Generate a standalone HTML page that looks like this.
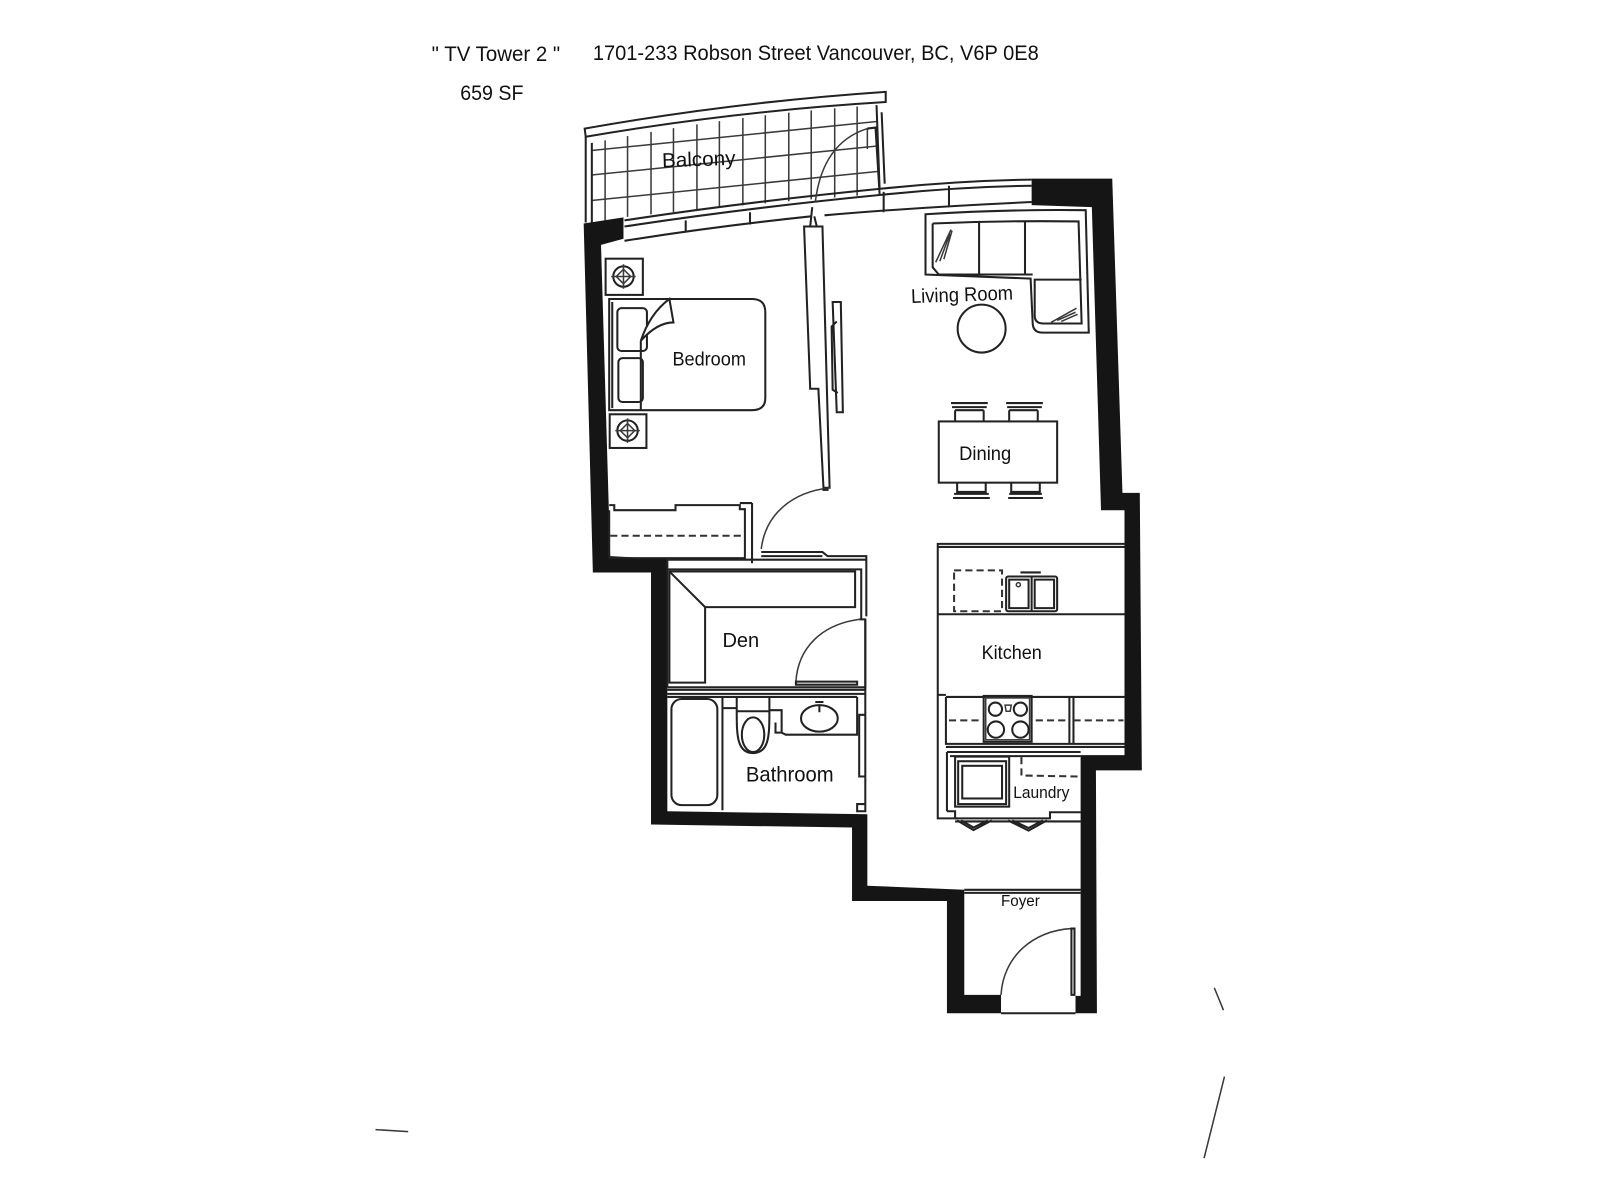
<!DOCTYPE html>
<html><head><meta charset="utf-8"><style>
html,body{margin:0;padding:0;background:#fff;width:1600px;height:1200px;overflow:hidden}
svg{display:block}
text{font-family:"Liberation Sans",sans-serif;fill:#111}
.l{fill:none;stroke:#222;stroke-width:2}
.t{fill:none;stroke:#3a3a3a;stroke-width:1.5}
.d{fill:none;stroke:#333;stroke-width:2;stroke-dasharray:7 4}
.w{fill:#151515}
.f{fill:#fff;stroke:#222;stroke-width:2}
</style></head><body>
<svg width="1600" height="1200" viewBox="0 0 1568 1176" xmlns="http://www.w3.org/2000/svg">
<defs><clipPath id="bal"><path d="M580,140 Q720,112 859,103 L863,190 Q730,200 611,213 L580,218Z"/></clipPath></defs>
<g clip-path="url(#bal)" class="t">
<path d="M593,100V230M615,100V230M638,100V230M660,100V230M683,100V230M705,100V230M728,100V230M750,100V230M773,100V230M795,100V230M818,100V230M840,100V230"/>
<path d="M575,148L870,118M575,172L870,142M575,197L870,167"/>
</g>
<path class="l" d="M573,126Q720,100 868,90L868,100Q720,109 574,134Z"/>
<path class="l" d="M574,134V218M580,140V218M859,103L862,185M864,110L867,180"/>
<path class="l" d="M612,216Q730,198 863,185Q940,177 1011,176M612,222Q730,204 863,191Q940,183 1011,182M612,236Q700,222 795,212M808,211Q900,203 1011,198M866,188V208M930,182V203M672,216V228M735,208V220"/>
<path class="l" d="M798,212L801,224M796,203L794,222"/>
<path class="t" d="M799,198Q806,140 850,126L850,146"/>
<path class="l" d="M850,126L858,125L862,190"/>
<polygon class="w" points="572,219 611,213 611,234 589,240 598,545 654,548 654,795 850,798 850,868 945,872 945,975 981,975 981,993 928,993 928,883 835,883 835,811 638,808 638,561 581,561"/>
<polygon class="w" points="1011,175 1090,175 1100,483 1117,483 1119,755 1074,755 1075,993 1054,993 1054,976 1059,976 1059,740 1102,740 1102,500 1079,500 1070,203 1011,201"/>
<path class="f" d="M788,222L806,222L813,478L807,478L802,381L794,381Z"/>
<path class="l" d="M816,296H824L826,404H820ZM820,315L815,320L816,382L821,385"/>
<path class="t" d="M814,478C775,482 750,505 746,538"/>
<path class="l" d="M812,480L806,480M746,541H806L811,545H849V604M746,545H806"/>
<rect class="f" x="593.5" y="253.5" width="36.5" height="35.5"/><circle class="l" cx="611" cy="271" r="10"/><path class="t" d="M611,259V283M599,271H623"/><rect class="t" x="606" y="266" width="10" height="10" transform="rotate(45 611 271)"/>
<rect class="f" x="597.5" y="406" width="36" height="33"/><circle class="l" cx="615" cy="422" r="10"/><path class="t" d="M615,410V434M603,422H627"/><rect class="t" x="610" y="417" width="10" height="10" transform="rotate(45 615 422)"/>
<path class="l" d="M597,293H737Q750,293 750,306V390Q750,402 737,402H597ZM600,296V400"/>
<rect class="l" x="605" y="302" width="29" height="42" rx="4"/>
<rect class="l" x="606" y="351" width="24" height="43" rx="4"/>
<path class="f" d="M628,334C634,316 644,302 656,293L660,316Q644,316 628,334ZM628,334V402"/>
<path class="l" d="M597,495H602V500H662V495H725V499H730V549M737,493V552M725,493H737M597,500V547H730"/>
<path class="d" d="M598,525H729" stroke-dasharray="4 2"/>
<path class="l" d="M654,548.5H849M654,558H844V605M654,548V673M844,558V607"/>
<path class="l" d="M656,560H838V595H691V669H656ZM656,560L691,595"/>
<path class="t" d="M842,607C805,612 782,635 780,668"/>
<path class="l" d="M842,607H848V675M780,668H840V671H780Z"/>
<path class="l" d="M654,673.5H848M654,676H848M654,680H848M654,683H840"/>
<rect class="l" x="658" y="685" width="45" height="104" rx="10"/><path class="l" d="M708,683V794M708,694H722"/>
<path class="l" d="M722,683V697H754V683M722,697C722,720 722,738 738,738C754,738 754,720 754,697"/>
<ellipse class="l" cx="738" cy="720" rx="11" ry="17"/>
<path class="l" d="M754,696H766V718L770,720H840V683M760,708V718H765"/>
<ellipse class="l" cx="803" cy="704" rx="18" ry="13"/><path class="l" d="M803,691V698M799,688H807"/>
<path class="l" d="M842,700.5H848V761H842ZM848,608V795M840,788H848V795H840Z"/>
<path class="l" stroke-width="3" d="M919,533H1102M919,536H1102M919,532V802H938M919,602H1102M919,681H927"/>
<rect class="d" x="935" y="559" width="47" height="40"/>
<rect class="l" x="986" y="565" width="50" height="34" rx="2"/><path class="l" d="M1011,565V599M989,568V596H1008V568ZM1014,568V596H1033V568ZM1000,561H1020"/><circle class="t" cx="998" cy="573" r="2"/>
<path class="l" d="M927,683H1102M927,683V729H1102M927,732H1102M1048,683V729M1052,683V729"/>
<rect class="l" x="964" y="682" width="47" height="45"/><rect class="t" x="966" y="684" width="43" height="41"/>
<circle class="l" cx="975.5" cy="695" r="6.5"/><circle class="l" cx="1000" cy="695" r="6.5"/><circle class="l" cx="976" cy="715" r="8"/><circle class="l" cx="1000" cy="715" r="8"/><path class="t" d="M985,691H991L990,697H986Z"/>
<path class="d" d="M930,706H961M1015,706H1046M1052,706H1101"/>
<path class="l" d="M928,737H1059M928,737V795M931,741H1059M928,795H936V802"/>
<rect class="l" x="936" y="741.5" width="53" height="49"/><rect class="l" x="939" y="746" width="47" height="42"/><rect class="l" x="943" y="750.5" width="39" height="32"/>
<path class="d" d="M1001,742V760L1059,761" stroke-dasharray="4 2"/>
<path class="l" d="M936,802H1029V796H1059M936,805H1059"/>
<path class="l" d="M938,804L954,813.5L972,804M942,804L954,811L968,804M988,804L1008,814L1026,804M992,804L1008,811.5L1022,804"/>
<path class="l" d="M945,872H1059M945,875H1059"/>
<path class="t" d="M981,975C983,938 1012,912 1050,910"/>
<path class="l" d="M1050,910H1053V975H1050ZM981,993H1054"/>
<path class="l" d="M907,210Q985,205 1064,206L1067,326H1022Q1012,326 1012,316L1010,273L907,269ZM914,219Q985,216 1057,217L1060,317H1022Q1014,317 1014,309V274H1060M914,219V262L920,269H1012"/>
<path class="l" d="M959.5,217V269M1004.5,217V269"/>
<path class="t" d="M917,257L932,225M921,256L931,229M925,254L933,226M1030,316L1055,302M1036,314L1054,306M1040,315L1056,308"/>
<circle class="l" cx="962" cy="322" r="23.5"/>
<rect class="l" x="920" y="413" width="116" height="60"/>
<path class="l" d="M932,395H968M933,399H967M936,402V413M964,402V413M936,402H964M986,395H1022M987,399H1021M989,402V413M1017,402V413M989,402H1017"/>
<path class="l" d="M934,488H970M935,484H969M938,473V482H966V473M988,488H1022M989,484H1021M991,473V482H1019V473"/>
<text x="423" y="60" font-size="21" textLength="126" lengthAdjust="spacingAndGlyphs">" TV Tower 2 "</text>
<text x="581" y="59" font-size="21" textLength="437" lengthAdjust="spacingAndGlyphs">1701-233 Robson Street Vancouver, BC, V6P 0E8</text>
<text x="451" y="98" font-size="21" textLength="62" lengthAdjust="spacingAndGlyphs">659 SF</text>
<text x="649" y="164" font-size="20" textLength="72" lengthAdjust="spacingAndGlyphs" transform="rotate(-2 649 164)">Balcony</text>
<text x="893" y="297" font-size="19.5" textLength="100" lengthAdjust="spacingAndGlyphs" transform="rotate(-2 893 297)">Living Room</text>
<text x="659" y="358" font-size="19" textLength="72" lengthAdjust="spacingAndGlyphs">Bedroom</text>
<text x="940" y="451" font-size="19" textLength="51" lengthAdjust="spacingAndGlyphs">Dining</text>
<text x="708" y="634" font-size="20" textLength="36" lengthAdjust="spacingAndGlyphs">Den</text>
<text x="962" y="646" font-size="19" textLength="59" lengthAdjust="spacingAndGlyphs">Kitchen</text>
<text x="731" y="766" font-size="21" textLength="86" lengthAdjust="spacingAndGlyphs">Bathroom</text>
<text x="993" y="782" font-size="16" textLength="55" lengthAdjust="spacingAndGlyphs">Laundry</text>
<text x="981" y="888" font-size="15" textLength="38" lengthAdjust="spacingAndGlyphs">Foyer</text>
<path class="t" d="M368,1107L400,1109M1190,968L1199,990M1200,1055L1180,1135"/>
</svg>
</body></html>
